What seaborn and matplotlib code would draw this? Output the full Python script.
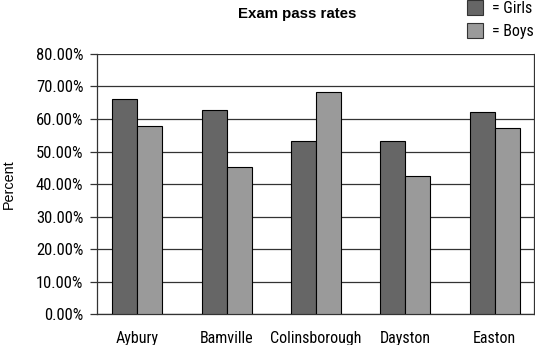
import matplotlib
matplotlib.use("Agg")
import matplotlib.pyplot as plt
import matplotlib.ticker as mtick
from matplotlib.patches import Patch
import pandas as pd
import seaborn as sns

towns = ["Aybury", "Bamville", "Colinsborough", "Dayston", "Easton"]
girls = [66.2, 62.8, 53.1, 53.1, 62.0]
boys = [57.9, 45.3, 68.2, 42.6, 57.3]
groups = ["Girls", "Boys"]
colors = ["#666666", "#9a9a9a"]

df = pd.DataFrame({
    "town": towns * 2,
    "group": ["Girls"] * len(towns) + ["Boys"] * len(towns),
    "pct": girls + boys,
})

sns.set_style("white")
plt.rcParams["font.family"] = ["Roboto Condensed", "DejaVu Sans"]
plt.rcParams["text.color"] = "black"
plt.rcParams["xtick.color"] = "black"
plt.rcParams["ytick.color"] = "black"

fig = plt.figure(figsize=(5.35, 3.45), dpi=100)
ax = fig.add_axes([97 / 535, 1 - 314.3 / 345, (534 - 97) / 535, (314.3 - 53.9) / 345])

sns.barplot(data=df, x="town", y="pct", hue="group", hue_order=groups,
            palette=colors, width=0.56, gap=0, edgecolor="black",
            linewidth=0.8, saturation=1, legend=False, ax=ax, zorder=3)

ax.set_ylim(0, 80)
ax.set_xlim(-0.45, 4.44)
ax.yaxis.set_major_locator(mtick.MultipleLocator(10))
ax.yaxis.set_major_formatter(mtick.FuncFormatter(lambda v, p: f"{v:.2f}%"))
ax.grid(axis="y", color="#333333", linewidth=0.9, zorder=0)
ax.set_axisbelow(True)
for s in ["left", "bottom", "right"]:
    ax.spines[s].set_visible(True)
    ax.spines[s].set_color("#333333")
    ax.spines[s].set_linewidth(0.9)
ax.spines["top"].set_visible(False)
ax.tick_params(axis="y", left=True, length=4.8, width=0.9, color="#333333",
               labelsize=12, pad=5)
ax.tick_params(axis="x", bottom=False, labelsize=11.5, pad=8.5)
ax.set_xlabel("")
ax.set_ylabel("")

fig.text(9 / 535, 1 - 184 / 345, "Percent", rotation=90, ha="center",
         va="center", fontsize=10.4, family=["Liberation Sans", "DejaVu Sans"])
fig.text(297 / 535, 1 - 14 / 345, "Exam pass rates", ha="center",
         va="center", fontsize=10.8, fontweight="bold",
         family=["Liberation Sans", "DejaVu Sans"])

handles = [Patch(facecolor=c, edgecolor="#333333", linewidth=0.8) for c in colors]
fig.legend(handles, ["= " + g for g in groups], loc="upper left",
           bbox_to_anchor=(466.5 / 535, 1.0), frameon=False,
           handlelength=1.06, handleheight=1.06, handletextpad=0.55,
           labelspacing=0.45, fontsize=11.5, borderaxespad=0, borderpad=0)

fig.savefig("out.png", dpi=100)
